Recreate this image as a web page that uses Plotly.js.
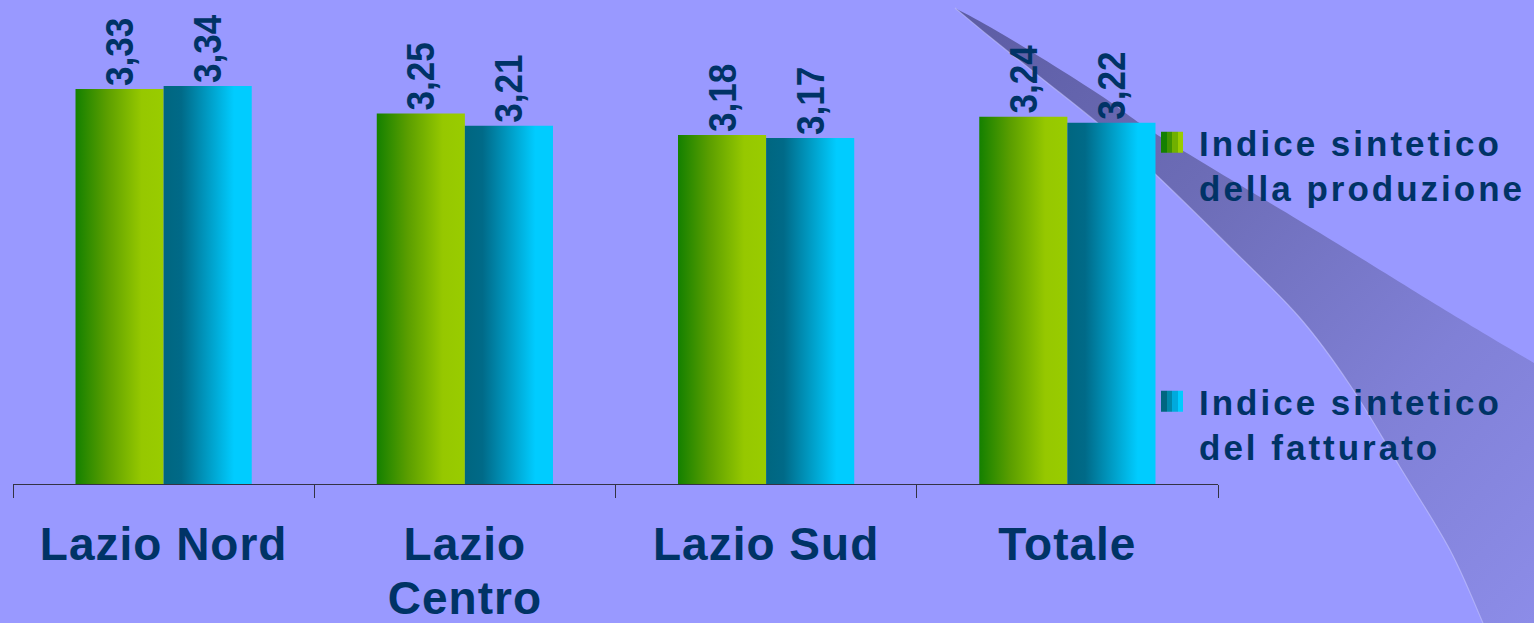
<!DOCTYPE html>
<html>
<head>
<meta charset="utf-8">
<script src="https://cdn.plot.ly/plotly-3.0.1.min.js"></script>
<style>
  html, body { margin: 0; padding: 0; background: #9999ff; }
  #chart { width: 1534px; height: 623px; }
</style>
</head>
<body>
<div id="chart"></div>
<script>
// ---- data ----
const categories = ["Lazio Nord", "Lazio<br>Centro", "Lazio Sud", "Totale"];
const produzione = [3.33, 3.25, 3.18, 3.24];
const fatturato = [3.34, 3.21, 3.17, 3.22];
const seriesNames = ["Indice sintetico<br>della produzione", "Indice sintetico<br>del fatturato"];

const TEXT = "#003366";
const FONT = "'Liberation Sans', Arial, sans-serif";
const W = 1534, H = 623;
const M = { l: 13, r: 316, t: 0, b: 139 };
const PW = W - M.l - M.r, PH = H - M.t - M.b;
function px(X) { return ((X - M.l) / PW); }
function py(Y) { return ((H - M.b - Y) / PH); }

// background swoosh decoration (pixel outline, smoothed, converted to paper coords)
const upper = [[955, 8], [990, 27], [1040, 57], [1100, 95], [1153, 132], [1240, 185], [1320, 233], [1450, 313], [1534, 363]];
const lower = [[1483, 623], [1450, 550], [1400, 467], [1350, 385], [1300, 318], [1233, 250], [1153, 172], [1100, 125], [1040, 77], [990, 37], [955, 8]];
function f(v) { return v.toFixed(5); }
function smooth(pts, startWithM) {
  let d = (startWithM ? "M" : "L") + f(px(pts[0][0])) + "," + f(py(pts[0][1]));
  for (let i = 0; i < pts.length - 1; i++) {
    const p0 = pts[Math.max(i - 1, 0)], p1 = pts[i], p2 = pts[i + 1], p3 = pts[Math.min(i + 2, pts.length - 1)];
    const c1 = [p1[0] + (p2[0] - p0[0]) / 6, p1[1] + (p2[1] - p0[1]) / 6];
    const c2 = [p2[0] - (p3[0] - p1[0]) / 6, p2[1] - (p3[1] - p1[1]) / 6];
    d += " C" + f(px(c1[0])) + "," + f(py(c1[1])) + " " + f(px(c2[0])) + "," + f(py(c2[1])) + " " + f(px(p2[0])) + "," + f(py(p2[1]));
  }
  return d;
}
const swoosh = smooth(upper, true) + " L" + f(px(1534)) + "," + f(py(623)) + " " + smooth(lower, false) + " Z";
const highlight = smooth(lower.slice().reverse(), true);

const traces = [
  { type: "bar", name: seriesNames[0], x: categories, y: produzione, legendgroup: "a",
    marker: { color: "#66aa00" } },
  { type: "bar", name: seriesNames[1], x: categories, y: fatturato, legendgroup: "b",
    marker: { color: "#0099cc" } }
].map(t => Object.assign(t, {
  texttemplate: "%{y:.2f}", textposition: "outside", textangle: -90,
  cliponaxis: false, constraintext: "none",
  textfont: { family: FONT, size: 39, color: TEXT, weight: "bold" }
}));

const layout = {
  width: W, height: H,
  margin: M,
  paper_bgcolor: "#9999ff", plot_bgcolor: "rgba(0,0,0,0)",
  separators: ",.",
  barmode: "group", bargap: 0.415, bargroupgap: 0,
  showlegend: true,
  legend: {
    x: px(1159), xanchor: "left", y: py(113), yanchor: "top",
    bgcolor: "rgba(0,0,0,0)", tracegroupgap: 165, valign: "top",
    font: { family: FONT, size: 35, color: TEXT, weight: "bold" }
  },
  xaxis: {
    type: "category", showline: true, linecolor: "#333344", linewidth: 1,
    ticks: "outside", tickson: "boundaries", ticklen: 13, tickcolor: "#333344",
    tickfont: { family: FONT, size: 46, color: TEXT, weight: "bold" },
    ticklabelstandoff: 20,
    showgrid: false, zeroline: false, fixedrange: true
  },
  yaxis: { visible: false, range: [2.043, 3.62], showgrid: false, zeroline: false, fixedrange: true },
  shapes: [
    { type: "path", xref: "paper", yref: "paper", path: swoosh, layer: "below",
      fillcolor: "#7777c8", line: { width: 0 } },
    { type: "path", xref: "paper", yref: "paper", path: highlight, layer: "below",
      line: { color: "rgba(200,200,255,0.55)", width: 1.2 } }
  ]
};

function addStyles(gd) {
  const svg = gd.querySelector(".main-svg");
  let defs = svg.querySelector("defs");
  if (!defs) { defs = document.createElementNS("http://www.w3.org/2000/svg", "defs"); svg.insertBefore(defs, svg.firstChild); }
  if (!defs.querySelector("#gGreen")) {
    defs.insertAdjacentHTML("beforeend",
      '<linearGradient id="gGreen" x1="0" y1="0" x2="1" y2="0">' +
        '<stop offset="0" stop-color="#148000"/><stop offset="0.35" stop-color="#5a9e00"/>' +
        '<stop offset="0.75" stop-color="#96c800"/><stop offset="1" stop-color="#99cc00"/></linearGradient>' +
      '<linearGradient id="gTeal" x1="0" y1="0" x2="1" y2="0">' +
        '<stop offset="0" stop-color="#006680"/><stop offset="0.2" stop-color="#006a88"/>' +
        '<stop offset="0.8" stop-color="#00ccff"/><stop offset="1" stop-color="#00ccff"/></linearGradient>' +
      '<linearGradient id="sGreen" x1="0" y1="0" x2="1" y2="0">' +
        '<stop offset="0" stop-color="#148000"/><stop offset="0.25" stop-color="#148000"/>' +
        '<stop offset="0.25" stop-color="#3f9400"/><stop offset="0.5" stop-color="#3f9400"/>' +
        '<stop offset="0.5" stop-color="#70b000"/><stop offset="0.75" stop-color="#70b000"/>' +
        '<stop offset="0.75" stop-color="#99cc00"/><stop offset="1" stop-color="#99cc00"/></linearGradient>' +
      '<linearGradient id="sTeal" x1="0" y1="0" x2="1" y2="0">' +
        '<stop offset="0" stop-color="#006680"/><stop offset="0.25" stop-color="#006680"/>' +
        '<stop offset="0.25" stop-color="#0088aa"/><stop offset="0.5" stop-color="#0088aa"/>' +
        '<stop offset="0.5" stop-color="#00aadd"/><stop offset="0.75" stop-color="#00aadd"/>' +
        '<stop offset="0.75" stop-color="#00ccff"/><stop offset="1" stop-color="#00ccff"/></linearGradient>' +
      '<linearGradient id="gSw" x1="0" y1="0" x2="1" y2="1">' +
        '<stop offset="0" stop-color="#5c5ca4"/><stop offset="0.35" stop-color="#6c6cb6"/>' +
        '<stop offset="0.7" stop-color="#8080d6"/><stop offset="1" stop-color="#8c8ce8"/></linearGradient>');
  }
  // bars
  const ids = ["gGreen", "gTeal"], sids = ["sGreen", "sTeal"];
  gd.querySelectorAll(".barlayer .trace").forEach((tr, i) => {
    tr.querySelectorAll(".point path").forEach(p => { p.style.fill = "url(#" + ids[i] + ")"; });
    tr.querySelectorAll(".point text").forEach(t => {
      if (t.dataset.sc) return;
      t.dataset.sc = "1";
      const bb = t.getBBox();
      const tf = t.getAttribute("transform") || "";
      t.setAttribute("transform", tf + " translate(" + bb.x + ",0) scale(0.9,1) translate(" + (-bb.x) + ",0)");
    });
  });
  // swoosh
  const shp = gd.querySelectorAll(".shapelayer path");
  if (shp.length) { shp[0].style.fill = "url(#gSw)"; shp[0].style.fillOpacity = 1; }
  // legend
  gd.querySelectorAll(".legend .scrollbox, .legend").forEach(g => g.removeAttribute("clip-path"));
  gd.querySelectorAll(".legend .traces").forEach((tr, i) => {
    tr.querySelectorAll(".legendpoints path").forEach(p => {
      p.setAttribute("d", "M4,10.5H-18V-10.5H4Z");
      p.style.fill = "url(#" + sids[i] + ")";
      p.style.stroke = "none";
    });
    tr.querySelectorAll("text.legendtext").forEach(t => { t.style.letterSpacing = "3px"; });
  });
  // x tick label line spacing
  gd.querySelectorAll(".xtick text tspan.line").forEach(ts => {
    const dy = ts.getAttribute("dy");
    if (dy && parseFloat(dy) !== 0) ts.setAttribute("dy", "54px");
  });
  gd.querySelectorAll(".xtick text").forEach(t => { t.style.letterSpacing = "1px"; });
}

const gd = document.getElementById("chart");
Plotly.newPlot(gd, traces, layout, { staticPlot: true, displayModeBar: false }).then(() => {
  addStyles(gd);
  gd.on && gd.on("plotly_afterplot", () => addStyles(gd));
});
</script>
</body>
</html>
